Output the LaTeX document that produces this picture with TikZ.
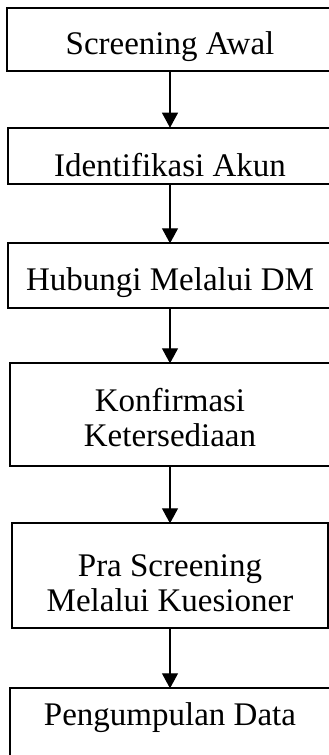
\documentclass[tikz,border=0pt]{standalone}
\usepackage{fontspec}
\setmainfont{Liberation Serif}
\usetikzlibrary{arrows.meta}

\tikzset{
  stepbox/.style={draw, line width=2.2pt, inner sep=0pt, outer sep=0pt,
    anchor=north, align=center, font=\fontsize{33}{35.5}\selectfont},
  flowarrow/.style={-{Triangle[width=16pt,length=15pt]}, line width=1.1pt}
}

\begin{document}
\begin{tikzpicture}[x=1pt,y=-1pt]
    \useasboundingbox (0,0) rectangle (329,755);
    % langkah-langkah
    \node[stepbox, minimum width=326pt, text height=46pt, text depth=17pt]   (awal)    at (170,8)     {Screening Awal};
    \node[stepbox, minimum width=324pt, text height=49pt, text depth=7.6pt]  (akun)    at (170,127.7) {Identifikasi Akun};
    \node[stepbox, minimum width=324pt, text height=46.7pt, text depth=17.7pt] (dm)    at (170,243.3) {Hubungi Melalui DM};
    \node[stepbox, minimum width=320pt, text height=83.4pt, text depth=19pt] (konfirm) at (170,363.3) {Konfirmasi\\Ketersediaan};
    \node[stepbox, minimum width=316pt, text height=88.4pt, text depth=16.3pt] (pra)   at (170,523.3) {Pra Screening\\Melalui Kuesioner};
    \node[stepbox, minimum width=320pt, text height=37pt, text depth=80pt]   (data)    at (170,688.3) {Pengumpulan Data};
    % panah
    \draw[flowarrow] (awal) -- (akun);
    \draw[flowarrow] (akun) -- (dm);
    \draw[flowarrow] (dm) -- (konfirm);
    \draw[flowarrow] (konfirm) -- (pra);
    \draw[flowarrow] (pra) -- (data);
\end{tikzpicture}
\end{document}
